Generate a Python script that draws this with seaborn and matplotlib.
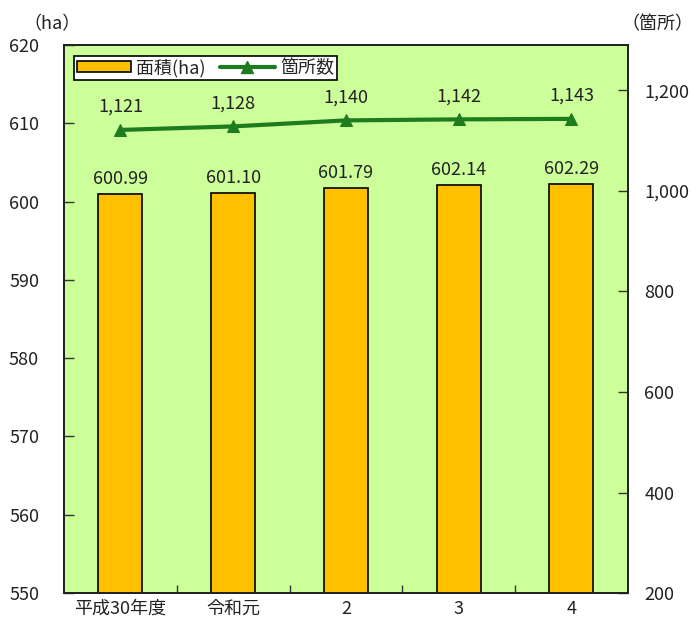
import numpy as np
import pandas as pd
import matplotlib
matplotlib.use("Agg")
import matplotlib.pyplot as plt
import seaborn as sns
from matplotlib.patches import Patch
from matplotlib.lines import Line2D

years = ["平成30年度", "令和元", "2", "3", "4"]
area_ha = [600.99, 601.10, 601.79, 602.14, 602.29]
sites = [1121, 1128, 1140, 1142, 1143]

sns.set_theme(style="white")
plt.rcParams["font.family"] = ["Noto Sans CJK JP", "DejaVu Sans"]

bar_color = "#FFC000"
line_color = "#1E7B1E"
bg_color = "#CCFF99"
fs = 13

df = pd.DataFrame({"year": years, "area": area_ha, "sites": sites})

fig = plt.figure(figsize=(6.96, 6.33), dpi=100)
ax = fig.add_axes([0.092, 0.063, 0.81, 0.866])
ax.set_facecolor(bg_color)

sns.barplot(data=df, x="year", y="area", order=years, color=bar_color,
            width=0.39, edgecolor="black", linewidth=1.2, saturation=1, ax=ax)
ax.set_ylim(550, 620)
ax.set_xlim(-0.5, 4.5)
ax.set_yticks(np.arange(550, 621, 10))
ax.set_xlabel("")
ax.set_ylabel("")
ax.bar_label(ax.containers[0], fmt="%.2f", padding=4, fontsize=fs, color="#222222")

# ticks between categories
ax.set_xticks(np.arange(0, 5))
ax.set_xticks(np.arange(0.5, 4.5, 1), minor=True)
ax.tick_params(axis="x", which="major", length=0, labelsize=fs, pad=5, colors="#222222")
ax.tick_params(axis="x", which="minor", direction="in", length=6, width=1, color="#333333", bottom=True)
ax.tick_params(axis="y", direction="in", length=7, width=1, left=True, labelsize=fs,
               colors="#222222", color="#333333", pad=18)

ax2 = ax.twinx()
sns.lineplot(x=np.arange(5), y=sites, ax=ax2, color=line_color, linewidth=3,
             marker="^", markersize=9, markeredgecolor=line_color)
ax2.set_ylim(200, 1290)
ax2.set_yticks(np.arange(200, 1201, 200))
ax2.set_yticklabels([f"{v:,}" for v in range(200, 1201, 200)])
ax2.tick_params(axis="y", direction="in", length=7, width=1, right=True, labelsize=fs,
                colors="#222222", color="#333333", pad=12)
for i, v in enumerate(sites):
    ax2.annotate(f"{v:,}", (i, v), xytext=(0, 10), textcoords="offset points",
                 ha="center", va="bottom", fontsize=fs, color="#222222")

for a in (ax, ax2):
    for s in a.spines.values():
        s.set_color("#222222")
        s.set_linewidth(1.3)

fig.text(0.075, 0.962, "（ha）", fontsize=fs, ha="center", va="center", color="#222222")
fig.text(0.945, 0.962, "（箇所）", fontsize=fs, ha="center", va="center", color="#222222")

handles = [Patch(facecolor=bar_color, edgecolor="black", linewidth=1.2),
           Line2D([0], [0], color=line_color, linewidth=3, marker="^", markersize=8)]
leg = ax.legend(handles, ["面積(ha)", "箇所数"], ncol=2, loc="upper left",
                bbox_to_anchor=(0.018, 0.98), borderaxespad=0, frameon=True, fancybox=False,
                edgecolor="black", framealpha=1, fontsize=fs, handlelength=3.0,
                handleheight=0.6, borderpad=0.15, columnspacing=0.8, handletextpad=0.3)
leg.get_frame().set_linewidth(1.2)
leg.set_zorder(10)

fig.savefig("out.png", dpi=100)
